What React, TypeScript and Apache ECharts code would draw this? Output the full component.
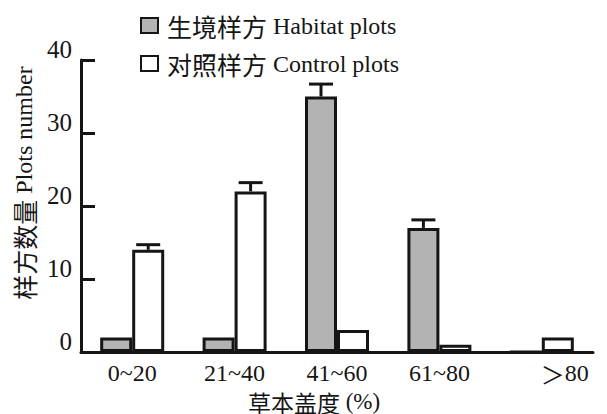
import React, { useEffect, useRef } from "react";
import * as echarts from "echarts";

const categories = ["0~20", "21~40", "41~60", "61~80", "＞80"];
const habitatValues = [2, 2, 35, 17, 0];
const controlValues = [14, 22, 3, 1, 2];
const habitatErrors = [0, 0, 1.7, 1.1, 0];
const controlErrors = [0.7, 1.2, 0, 0, 0];
const yTicks = { min: 0, max: 40, interval: 10 };
const legendNames = ["生境样方 Habitat plots", "对照样方 Control plots"];

const FONT = "Liberation Serif, Noto Sans CJK SC";
const CJK = "Noto Sans CJK SC";
const INK = "#151515";
const BAR_W = 32;

function errorSeries(name: string, values: number[], errors: number[], offset: number) {
  const data = values.map((v, i) => [i, v, errors[i]]);
  return {
    type: "custom",
    name: name + "-err",
    z: 5,
    silent: true,
    data,
    encode: { x: 0, y: 1 },
    renderItem: (params: any, api: any) => {
      const cat = api.value(0);
      const v = api.value(1);
      const e = api.value(2);
      if (!e) return null;
      const base = api.coord([cat, v]);
      const top = api.coord([cat, v + e]);
      const x = base[0] + offset;
      const half = 12;
      return {
        type: "group",
        children: [
          { type: "line", shape: { x1: x, y1: base[1], x2: x, y2: top[1] }, style: { stroke: INK, lineWidth: 3 } },
          { type: "line", shape: { x1: x - half, y1: top[1], x2: x + half, y2: top[1] }, style: { stroke: INK, lineWidth: 3 } },
        ],
      };
    },
  };
}

function splitCn(s: string) {
  const i = s.indexOf(" ");
  return "{cn|" + s.slice(0, i) + "}{en| " + s.slice(i + 1) + "}";
}

export default function App() {
  const ref = useRef<HTMLDivElement>(null);
  useEffect(() => {
    if (!ref.current) return;
    const chart = echarts.init(ref.current, null, { renderer: "svg" });
    chart.setOption({
      animation: false,
      textStyle: { fontFamily: FONT, color: INK },
      legend: {
        orient: "vertical",
        left: 135,
        top: 8,
        itemGap: 13,
        itemWidth: 17,
        itemHeight: 15,
        icon: "rect",
        data: legendNames,
        formatter: (n: string) => splitCn(n),
        textStyle: {
          fontFamily: FONT,
          fontSize: 24,
          color: INK,
          padding: [0, 0, 0, 4],
          rich: {
            cn: { fontFamily: CJK, fontSize: 25, color: INK, lineHeight: 26 },
            en: { fontFamily: FONT, fontSize: 24, color: INK, lineHeight: 26 },
          },
        },
      },
      grid: { left: 81, right: 14, top: 60, bottom: 62, containLabel: false, outerBoundsMode: "none" },
      xAxis: {
        type: "category",
        data: categories,
        name: "{cn|草本盖度} {en|(%)}",
        nameLocation: "middle",
        nameGap: 29,
        nameTextStyle: {
          fontFamily: FONT,
          fontSize: 23,
          color: INK,
          lineHeight: 24,
          padding: [0, 46, 0, 0],
          rich: {
            cn: { fontFamily: CJK, fontSize: 23, color: INK, lineHeight: 24 },
            en: { fontFamily: FONT, fontSize: 23, color: INK, lineHeight: 24 },
          },
        },
        axisLine: { lineStyle: { color: INK, width: 3 } },
        axisTick: { inside: true, length: 5, lineStyle: { color: INK, width: 3 } },
        axisLabel: {
          interval: 0,
          fontFamily: FONT,
          fontSize: 24,
          color: INK,
          margin: 9,
          formatter: (v: string) => (v === categories[4] ? "{g|" + v.slice(0, 1) + "}{n|" + v.slice(1) + "}" : v),
          rich: {
            g: { fontFamily: CJK, fontSize: 24, color: INK, padding: [0, 0, 0, 46] },
            n: { fontFamily: FONT, fontSize: 24, color: INK },
          },
        },
      },
      yAxis: {
        type: "value",
        min: yTicks.min,
        max: yTicks.max,
        interval: yTicks.interval,
        name: "{cn|样方数量} {en|Plots number}",
        nameLocation: "middle",
        nameGap: 36,
        nameTextStyle: {
          fontFamily: FONT,
          fontSize: 24,
          color: INK,
          padding: [0, 0, 0, 46],
          rich: {
            cn: { fontFamily: CJK, fontSize: 25, color: INK },
            en: { fontFamily: FONT, fontSize: 24, color: INK },
          },
        },
        splitLine: { show: false },
        axisLine: { show: true, lineStyle: { color: INK, width: 3 } },
        axisTick: { show: true, inside: true, length: 14, lineStyle: { color: INK, width: 3 } },
        axisLabel: { fontFamily: FONT, fontSize: 25, color: INK, margin: 9, verticalAlign: "bottom", lineHeight: 21 },
      },
      series: [
        { type: "bar", name: legendNames[0], data: habitatValues, barWidth: BAR_W, barGap: "0%", itemStyle: { color: "#b3b3b3", borderColor: INK, borderWidth: 3 } },
        { type: "bar", name: legendNames[1], data: controlValues, barWidth: BAR_W, barGap: "0%", itemStyle: { color: "#ffffff", borderColor: INK, borderWidth: 3 } },
        errorSeries("habitat", habitatValues, habitatErrors, -BAR_W / 2),
        errorSeries("control", controlValues, controlErrors, BAR_W / 2),
      ],
    });
    return () => chart.dispose();
  }, []);
  return <div ref={ref} style={{ width: 607, height: 414, marginLeft: -8, marginTop: -8 }} />;
}
